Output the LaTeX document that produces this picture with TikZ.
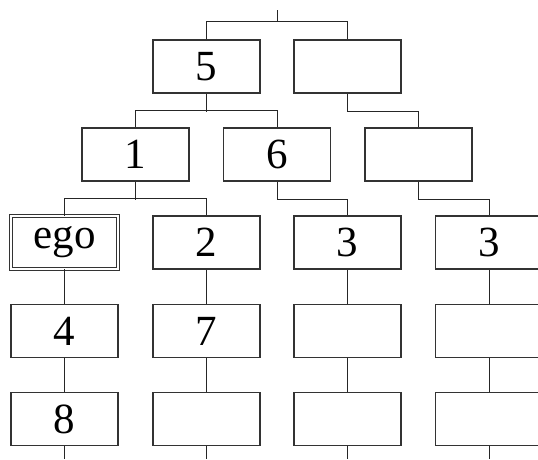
\documentclass[tikz,border=0pt]{standalone}
\usepackage{fontspec}
\setmainfont{Liberation Serif}
\begin{document}
\begin{tikzpicture}[x=1pt,y=-1pt,
  box/.style={draw=black!80, line width=1.3pt, fill=white, minimum width=107pt, minimum height=53pt, inner sep=0pt, font=\fontsize{43}{48}\selectfont},
  egobox/.style={box, double, double distance=1.6pt, line width=0.9pt},
  link/.style={draw=black!85, line width=1pt}]
\useasboundingbox (0,0) rectangle (538,459);
\clip (0,0) rectangle (538,459);
% row 1
\node[box] (r1a) at (206.5,66.5) {5};
\node[box] (r1b) at (347.5,66.5) {};
% row 2
\node[box] (r2a) at (135.5,154.5) {1};
\node[box] (r2b) at (277,154.5) {6};
\node[box] (r2c) at (418.5,154.5) {};
% row 3
\node[egobox] (r3a) at (64.5,242.5) {ego};
\node[box] (r3b) at (206.5,242.5) {2};
\node[box] (r3c) at (347.5,242.5) {3};
\node[box] (r3d) at (489,242.5) {3};
% row 4
\node[box] (r4a) at (64.5,331) {4};
\node[box] (r4b) at (206.5,331) {7};
\node[box] (r4c) at (347.5,331) {};
\node[box] (r4d) at (489,331) {};
% row 5
\node[box] (r5a) at (64.5,419) {8};
\node[box] (r5b) at (206.5,419) {};
\node[box] (r5c) at (347.5,419) {};
\node[box] (r5d) at (489,419) {};
% free ends
\coordinate (top) at (277,10);
\coordinate (e1) at (64.5,459);
\coordinate (e2) at (206.5,459);
\coordinate (e3) at (347.5,459);
\coordinate (e4) at (489,459);
% connectors
\draw[link] (top) -- ++(0,12);
\draw[link] (r1a.north) -- ++(0,-18) -| (r1b.north);
\draw[link] (r1a.south) -- ++(0,18);
\draw[link] (r2a.north) -- ++(0,-17) -| (r2b.north);
\draw[link] (r1b.south) -- ++(0,18) -| (r2c.north);
\draw[link] (r2a.south) -- ++(0,18);
\draw[link] (r3a.north) -- ++(0,-17) -| (r3b.north);
\draw[link] (r2b.south) -- ++(0,18) -| (r3c.north);
\draw[link] (r2c.south) -- ++(0,18) -| (r3d.north);
\draw[link] (r3a.south) -- (r4a.north);
\draw[link] (r3b.south) -- (r4b.north);
\draw[link] (r3c.south) -- (r4c.north);
\draw[link] (r3d.south) -- (r4d.north);
\draw[link] (r4a.south) -- (r5a.north);
\draw[link] (r4b.south) -- (r5b.north);
\draw[link] (r4c.south) -- (r5c.north);
\draw[link] (r4d.south) -- (r5d.north);
\draw[link] (r5a.south) -- (e1);
\draw[link] (r5b.south) -- (e2);
\draw[link] (r5c.south) -- (e3);
\draw[link] (r5d.south) -- (e4);
\end{tikzpicture}
\end{document}
